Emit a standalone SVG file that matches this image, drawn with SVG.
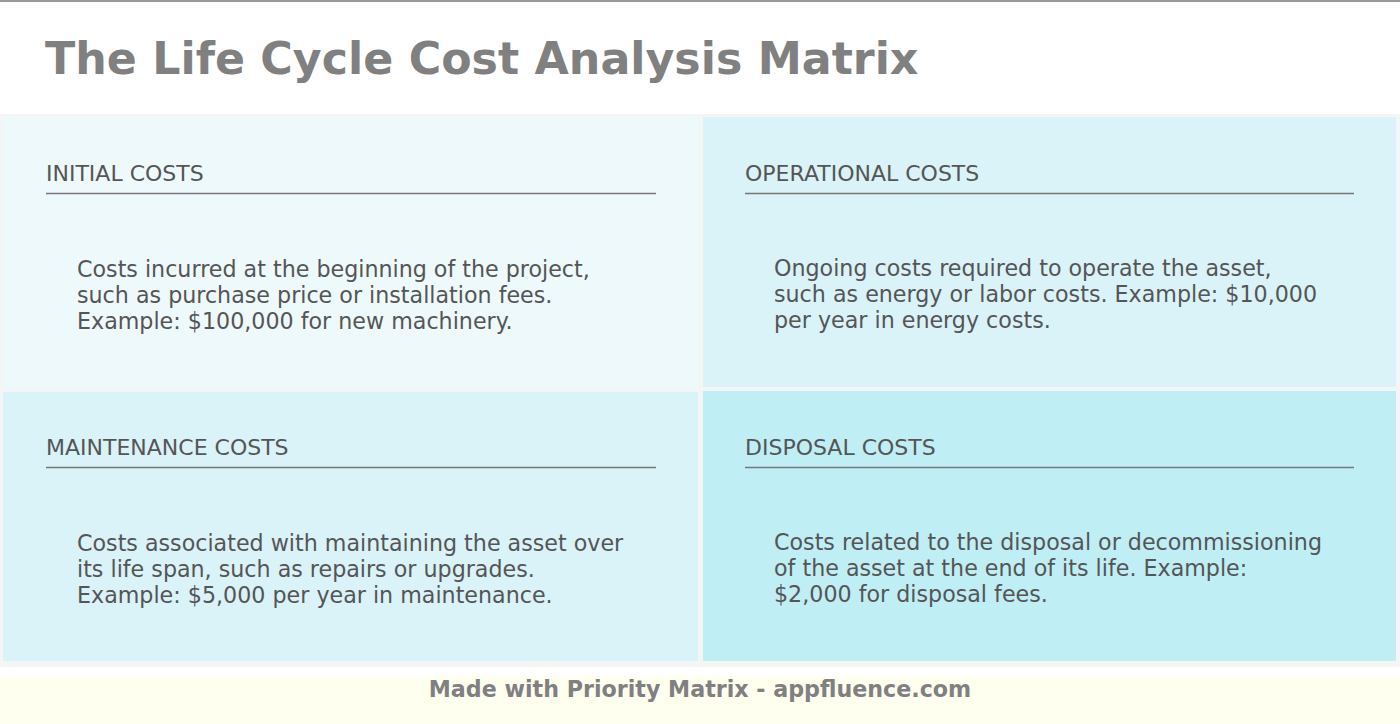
<svg xmlns="http://www.w3.org/2000/svg" width="1400" height="724" viewBox="0 0 1400 724">
<style>
.title{font-family:"DejaVu Sans",sans-serif;font-weight:bold;font-size:44.3px;fill:#808080}
.head{font-family:"DejaVu Sans",sans-serif;font-size:22px;fill:#555555}
.body{font-family:"DejaVu Sans",sans-serif;font-size:22.2px;fill:#555555}
.rule{stroke:#777777;stroke-width:1.5}
.foot{font-family:"DejaVu Sans",sans-serif;font-weight:bold;font-size:22.2px;fill:#808080}
</style>
<rect x="0" y="0" width="1400" height="724" fill="#ffffff"/>
<rect x="0" y="0" width="1400" height="2" fill="#999999"/>
<text class="title" x="45" y="74">The Life Cycle Cost Analysis Matrix</text>
<rect x="0" y="114" width="1400" height="553" fill="#f4f6f6"/>
<g id="q1">
<rect x="3" y="117" width="695" height="272" fill="#eef9fc"/>
<text class="head" x="46" y="181">INITIAL COSTS</text>
<line class="rule" x1="46" y1="193.5" x2="656" y2="193.5"/>
<text class="body" x="77" y="277">Costs incurred at the beginning of the project,</text>
<text class="body" x="77" y="303">such as purchase price or installation fees.</text>
<text class="body" x="77" y="329">Example: $100,000 for new machinery.</text>
</g>
<g id="q2">
<rect x="703" y="117" width="693" height="270" fill="#d9f3f8"/>
<text class="head" x="745" y="181">OPERATIONAL COSTS</text>
<line class="rule" x1="745" y1="193.5" x2="1354" y2="193.5"/>
<text class="body" x="774" y="276">Ongoing costs required to operate the asset,</text>
<text class="body" x="774" y="302">such as energy or labor costs. Example: $10,000</text>
<text class="body" x="774" y="328">per year in energy costs.</text>
</g>
<g id="q3">
<rect x="3" y="392" width="695" height="269" fill="#d9f3f8"/>
<text class="head" x="46" y="455">MAINTENANCE COSTS</text>
<line class="rule" x1="46" y1="467.5" x2="656" y2="467.5"/>
<text class="body" x="77" y="551">Costs associated with maintaining the asset over</text>
<text class="body" x="77" y="577">its life span, such as repairs or upgrades.</text>
<text class="body" x="77" y="603">Example: $5,000 per year in maintenance.</text>
</g>
<g id="q4">
<rect x="703" y="391" width="693" height="270" fill="#bfeef5"/>
<text class="head" x="745" y="455">DISPOSAL COSTS</text>
<line class="rule" x1="745" y1="467.5" x2="1354" y2="467.5"/>
<text class="body" x="774" y="550">Costs related to the disposal or decommissioning</text>
<text class="body" x="774" y="576">of the asset at the end of its life. Example:</text>
<text class="body" x="774" y="602">$2,000 for disposal fees.</text>
</g>
<g id="connectors"></g>
<rect x="0" y="676" width="1400" height="48" fill="#fffff0"/>
<text class="foot" x="700" y="697" text-anchor="middle">Made with Priority Matrix - appfluence.com</text>
</svg>
